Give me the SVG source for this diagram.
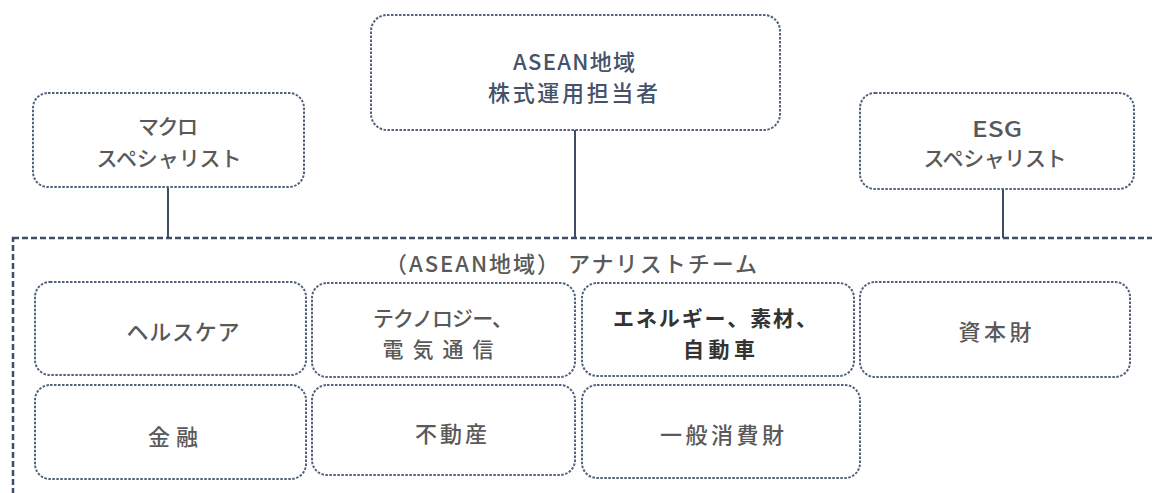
<svg xmlns="http://www.w3.org/2000/svg" width="1152" height="493" viewBox="0 0 1152 493">
<style>
.box{fill:#ffffff;stroke:#52627c;stroke-width:2;stroke-dasharray:2.5 1.5}
.team{fill:#ffffff;stroke:#3d4c69;stroke-width:2.5;stroke-dasharray:6 3}
.conn{stroke:#3e4d66;stroke-width:2;fill:none}
text{font-family:"Noto Sans CJK JP","Noto Sans",sans-serif;font-size:21px;font-weight:500;fill:#595959;text-anchor:middle;dominant-baseline:central}
.lead{fill:#45526a;font-size:22px}
.big{font-size:22px}
.dark{fill:#333333;font-weight:bold;font-size:21px}
</style>
<rect x="0" y="0" width="1152" height="493" fill="#ffffff"/>
<g id="team">
<rect class="team" x="13" y="238" width="1160" height="300"/>
<text class="big" x="571" y="262" textLength="372" lengthAdjust="spacing">（ASEAN地域） アナリストチーム</text>
</g>
<g id="connectors">
<line class="conn" x1="168" y1="188" x2="168" y2="238"/>
<line class="conn" x1="575" y1="130" x2="575" y2="238"/>
<line class="conn" x1="1003" y1="189" x2="1003" y2="238"/>
</g>
<g id="macro">
<rect class="box" x="33" y="93" width="271" height="94" rx="15"/>
<text x="168" y="125" textLength="60" lengthAdjust="spacing">マクロ</text>
<text x="169" y="157" textLength="145" lengthAdjust="spacing">スペシャリスト</text>
</g>
<g id="lead">
<rect class="box" x="371" y="15" width="409" height="115" rx="16"/>
<text class="lead" x="574" y="60" textLength="122" lengthAdjust="spacing">ASEAN地域</text>
<text class="lead" x="573" y="91" textLength="170" lengthAdjust="spacing">株式運用担当者</text>
</g>
<g id="esg">
<rect class="box" x="860" y="93" width="274" height="96" rx="15"/>
<text class="big" x="997" y="127" textLength="50" lengthAdjust="spacingAndGlyphs">ESG</text>
<text x="995" y="157" textLength="143" lengthAdjust="spacing">スペシャリスト</text>
</g>
<g id="healthcare">
<rect class="box" x="35" y="282" width="271" height="93" rx="15"/>
<text class="big" x="183" y="330" textLength="113" lengthAdjust="spacing">ヘルスケア</text>
</g>
<g id="tech">
<rect class="box" x="312" y="283" width="263" height="94" rx="15"/>
<text x="443" y="317" textLength="140" lengthAdjust="spacing">テクノロジー、</text>
<text x="438" y="348" textLength="111" lengthAdjust="spacing">電気通信</text>
</g>
<g id="energy">
<rect class="box" x="582" y="283" width="272" height="93" rx="15"/>
<text class="dark" x="715" y="317" textLength="204" lengthAdjust="spacing">エネルギー、素材、</text>
<text class="dark" x="719" y="348" textLength="72" lengthAdjust="spacing">自動車</text>
</g>
<g id="capital">
<rect class="box" x="860" y="282" width="270" height="95" rx="15"/>
<text class="big" x="995" y="330" textLength="73" lengthAdjust="spacing">資本財</text>
</g>
<g id="finance">
<rect class="box" x="35" y="385" width="271" height="94" rx="15"/>
<text class="big" x="173" y="435" textLength="50" lengthAdjust="spacing">金融</text>
</g>
<g id="realestate">
<rect class="box" x="312" y="385" width="263" height="90" rx="15"/>
<text class="big" x="451" y="432" textLength="72" lengthAdjust="spacing">不動産</text>
</g>
<g id="consumer">
<rect class="box" x="582" y="385" width="278" height="93" rx="15"/>
<text class="big" x="722" y="433" textLength="124" lengthAdjust="spacing">一般消費財</text>
</g>
</svg>
